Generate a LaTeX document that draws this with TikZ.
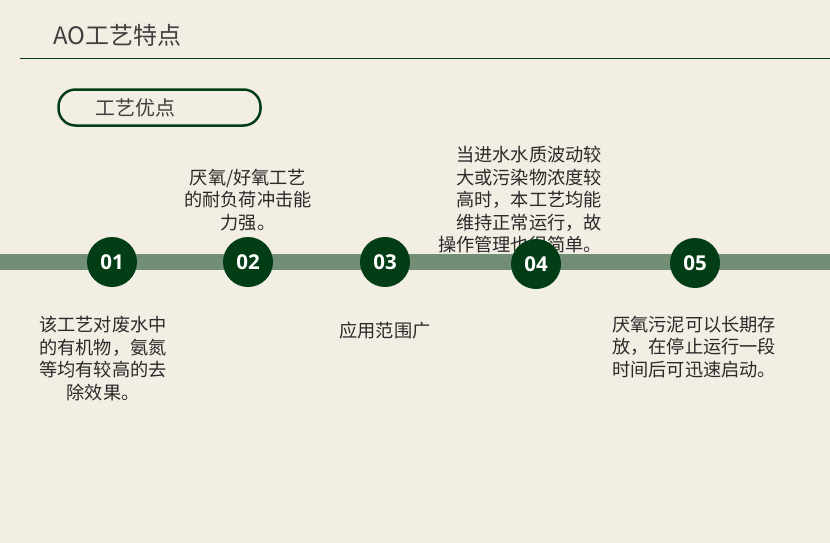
\documentclass[tikz,border=0pt]{standalone}
\usepackage{fontspec}
\setmainfont{Noto Sans CJK SC}
\newfontfamily\numfont{Open Sans}
\usetikzlibrary{positioning}
\definecolor{bgcream}{HTML}{F2EEE4}
\definecolor{darkgreen}{HTML}{033D16}
\definecolor{bargreen}{HTML}{728F76}
\definecolor{titlegray}{HTML}{404040}
\definecolor{textgray}{HTML}{2A2A2A}

\begin{document}
\begin{tikzpicture}[x=1pt,y=-1pt,
    stepdot/.style={circle,fill=darkgreen,minimum size=50pt,inner sep=0pt,
      text=white,font=\numfont\bfseries\fontsize{20.5}{20.5}\selectfont},
    desc/.style={text=textgray,inner sep=0pt,
      font=\fontsize{18.2}{22.5}\selectfont}]
    \fill[bgcream] (0,0) rectangle (830,543);
    \useasboundingbox (0,0) rectangle (830,543);

    % title and rule
    \node[anchor=west,text=titlegray,inner sep=0pt,
      font=\fontsize{24}{24}\selectfont] (title) at (53,35) {AO工艺特点};
    \coordinate (rulel) at (20,59);
    \coordinate (ruler) at (830,59);
    \draw[darkgreen,line width=1pt] (rulel) -- (ruler);

    % pill label
    \node[draw=darkgreen,line width=2.5pt,rounded corners=17pt,
      minimum width=202pt,minimum height=36pt] (pill) at (159.5,107.5) {};
    \node[anchor=west,text=titlegray,inner sep=0pt,
      font=\fontsize{20}{20}\selectfont] (pilltext) at (95,108) {工艺优点};

    % timeline bar
    \coordinate (barl) at (0,262);
    \coordinate (barr) at (830,262);
    \draw[bargreen,line width=16pt] (barl) -- (barr);

    % texts
    \node[desc,align=center,anchor=north] (desc01) at (103,316)
      {该工艺对废水中\\的有机物，氨氮\\等均有较高的去\\除效果。};
    \node[desc,align=center,anchor=north] (desc02) at (248,169)
      {厌氧/好氧工艺\\的耐负荷冲击能\\力强。};
    \node[desc,align=center,anchor=north] (desc03) at (385,322)
      {应用范围广};
    \node[desc,align=right,anchor=north east] (desc04) at (602,146)
      {当进水水质波动较\\大或污染物浓度较\\高时，本工艺均能\\维持正常运行，故\\操作管理也很简单。};
    \node[desc,align=left,anchor=north west] (desc05) at (612,316)
      {厌氧污泥可以长期存\\放，在停止运行一段\\时间后可迅速启动。};

    % numbered dots
    \foreach \n/\x/\y in {01/112/262, 02/248/262, 03/385/262, 04/536/264, 05/695/263}
      \node[stepdot] (dot\n) at (\x,\y) {\n};
\end{tikzpicture}
\end{document}
